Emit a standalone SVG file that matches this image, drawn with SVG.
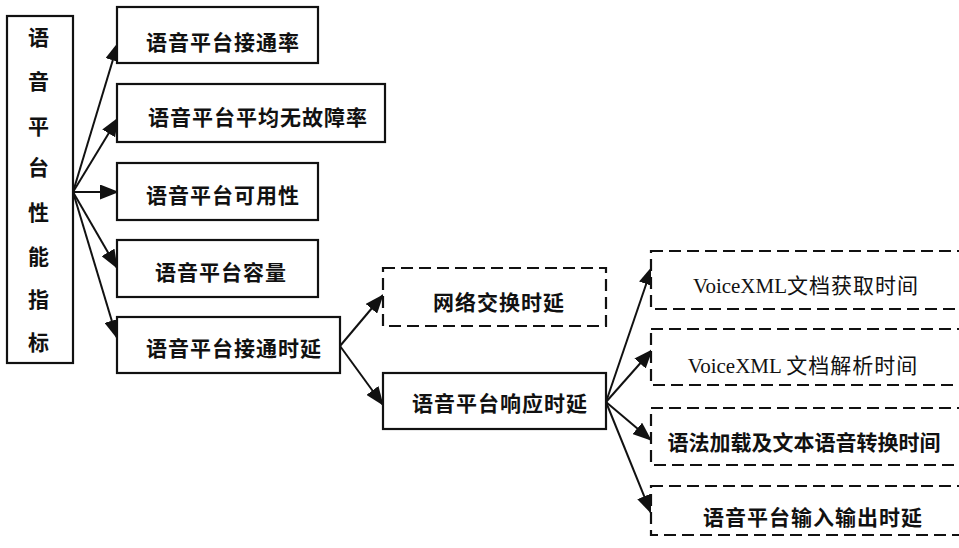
<svg xmlns="http://www.w3.org/2000/svg" width="959" height="548" viewBox="0 0 959 548">
<style>
.box{fill:#fff;stroke:#111;stroke-width:2.2}
.dash{fill:#fff;stroke:#111;stroke-width:2.2;stroke-dasharray:12 6}
.t{font-family:"Noto Sans CJK SC","Noto Sans",sans-serif;font-size:21px;font-weight:bold;fill:#111;text-anchor:middle;letter-spacing:1px}
.v{font-family:"Liberation Serif","Noto Sans CJK SC",serif;font-size:21px;fill:#111;text-anchor:middle}
.c{fill:none;stroke:#111;stroke-width:2;marker-end:url(#ah)}
</style>
<defs>
<marker id="ah" markerUnits="userSpaceOnUse" markerWidth="19" markerHeight="15" refX="18" refY="7.5" orient="auto">
<path d="M0,0 L19,7.5 L0,15 Z" fill="#111"/>
</marker>
</defs>
<rect width="959" height="548" fill="#fff"/>
<g id="connectors">
<line class="c" x1="73" y1="192" x2="118" y2="43"/>
<line class="c" x1="73" y1="192" x2="118" y2="118"/>
<line class="c" x1="73" y1="192" x2="118" y2="192"/>
<line class="c" x1="73" y1="192" x2="117" y2="268"/>
<line class="c" x1="73" y1="192" x2="117" y2="338"/>
<line class="c" x1="340" y1="346" x2="383" y2="295"/>
<line class="c" x1="340" y1="346" x2="383" y2="405"/>
<line class="c" x1="606" y1="402" x2="652" y2="267"/>
<line class="c" x1="606" y1="402" x2="652" y2="350"/>
<line class="c" x1="606" y1="402" x2="651" y2="440"/>
<line class="c" x1="606" y1="402" x2="651" y2="513"/>
</g>
<g id="root">
<rect class="box" x="7" y="16" width="66" height="347"/>
<text class="t" x="39" y="45">语</text>
<text class="t" x="39" y="89">音</text>
<text class="t" x="39" y="134">平</text>
<text class="t" x="39" y="175">台</text>
<text class="t" x="39" y="220">性</text>
<text class="t" x="39" y="264">能</text>
<text class="t" x="39" y="307">指</text>
<text class="t" x="39" y="350">标</text>
</g>
<g id="n1">
<rect class="box" x="117" y="7" width="201" height="56"/>
<text class="t" x="223" y="50">语音平台接通率</text>
</g>
<g id="n2">
<rect class="box" x="117" y="84" width="268" height="58"/>
<text class="t" x="258" y="125">语音平台平均无故障率</text>
</g>
<g id="n3">
<rect class="box" x="117" y="163" width="201" height="57"/>
<text class="t" x="223" y="203">语音平台可用性</text>
</g>
<g id="n4">
<rect class="box" x="117" y="240" width="201" height="57"/>
<text class="t" x="221" y="280">语音平台容量</text>
</g>
<g id="n5">
<rect class="box" x="117" y="317" width="223" height="56"/>
<text class="t" x="234" y="356">语音平台接通时延</text>
</g>
<g id="n6">
<rect class="dash" x="383" y="268" width="223" height="58"/>
<text class="t" x="499" y="310">网络交换时延</text>
</g>
<g id="n7">
<rect class="box" x="383" y="373" width="223" height="56"/>
<text class="t" x="500" y="411">语音平台响应时延</text>
</g>
<g id="n8">
<rect class="dash" x="651" y="251" width="330" height="58"/>
<text class="v" x="806" y="293">VoiceXML<tspan class="t" style="text-anchor:start;font-weight:normal">文档获取时间</tspan></text>
</g>
<g id="n9">
<rect class="dash" x="651" y="329" width="330" height="56"/>
<text class="v" x="803" y="373">VoiceXML <tspan class="t" style="text-anchor:start;font-weight:normal">文档解析时间</tspan></text>
</g>
<g id="n10">
<rect class="dash" x="651" y="408" width="330" height="57"/>
<text class="t" x="804" y="450" style="letter-spacing:0px">语法加载及文本语音转换时间</text>
</g>
<g id="n11">
<rect class="dash" x="651" y="486" width="330" height="49"/>
<text class="t" x="813" y="525">语音平台输入输出时延</text>
</g>
</svg>
